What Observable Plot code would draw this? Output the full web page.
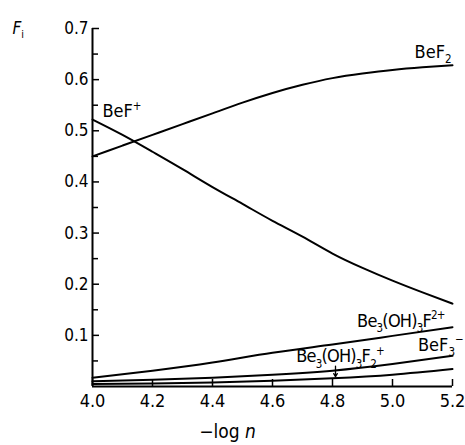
<!DOCTYPE html>
<html><head><meta charset="utf-8">
<script src="https://cdn.jsdelivr.net/npm/d3@7"></script>
<script src="https://cdn.jsdelivr.net/npm/@observablehq/plot@0.6"></script>
<style>
body{margin:0;background:#fff;}
#chart svg{font-family:"DejaVu Sans Condensed","DejaVu Sans",sans-serif;font-stretch:condensed;}
</style></head><body><div id="chart"></div>
<script>
// -log n values (x) for the two major species
const logN = [4.0, 4.1, 4.2, 4.3, 4.4, 4.5, 4.6, 4.7, 4.8, 4.9, 5.0, 5.1, 5.2];
const fBeF = [0.522, 0.492, 0.459, 0.425, 0.390, 0.357, 0.324, 0.293, 0.260, 0.232, 0.207, 0.184, 0.162];
const fBeF2 = [0.450, 0.471, 0.492, 0.513, 0.534, 0.555, 0.574, 0.590, 0.603, 0.612, 0.619, 0.624, 0.628];
// -log n values for the minor species
const logNMinor = [4.0, 4.2, 4.4, 4.6, 4.8, 5.0, 5.2];
const fBe3OH3F = [0.017, 0.031, 0.047, 0.066, 0.082, 0.099, 0.116];
const fBeF3 = [0.010, 0.013, 0.017, 0.023, 0.031, 0.044, 0.060];
const fBe3OH3F2 = [0.005, 0.006, 0.008, 0.011, 0.016, 0.023, 0.034];
// ticks
const yMajor = [0.1, 0.2, 0.3, 0.4, 0.5, 0.6, 0.7];
const yMinor = [0.05, 0.15, 0.25, 0.35, 0.45, 0.55, 0.65];
const xTicks = [4.0, 4.2, 4.4, 4.6, 4.8, 5.0, 5.2];
// species labels (markup: _ subscript, ^ superscript)
const labelText = ["BeF^+", "BeF_2", "Be_3(OH)_3F^{2+}", "BeF_3^−", "Be_3(OH)_3F_2^+"];
const labelX = [4.033, 5.197, 5.174, 5.085, 4.679];
const labelY = [0.526, 0.642, 0.117, 0.070, 0.047];
const labelAnchor = ["start", "end", "end", "start", "start"];
// arrow from label to the lowest curve
const arrowX = 4.81, arrowFrom = 0.040, arrowTo = 0.019;

const rows = [];
logN.forEach((x, i) => { rows.push({x, y: fBeF[i], s: "BeF+"}); rows.push({x, y: fBeF2[i], s: "BeF2"}); });
logNMinor.forEach((x, i) => {
  rows.push({x, y: fBe3OH3F[i], s: "Be3(OH)3F2+"});
  rows.push({x, y: fBeF3[i], s: "BeF3-"});
  rows.push({x, y: fBe3OH3F2[i], s: "Be3(OH)3F2+b"});
});
const labels = labelText.map((t, i) => ({t, x: labelX[i], y: labelY[i], a: labelAnchor[i]}));

const chart = Plot.plot({
  width: 465, height: 445,
  marginLeft: 92, marginRight: 13, marginTop: 28, marginBottom: 59,
  style: {background: "white", color: "black", overflow: "visible"},
  x: {domain: [4.0, 5.2]},
  y: {domain: [0, 0.7]},
  marks: [
    Plot.axisY({ticks: yMajor, tickSize: -7, tickFormat: () => "", strokeWidth: 1.5, label: null}),
    Plot.axisY({ticks: yMinor, tickSize: -6, tickFormat: () => "", strokeWidth: 1.5, label: null}),
    Plot.axisY({ticks: yMajor, tickSize: 0, tickPadding: 4, fontSize: 17, tickFormat: d => d.toFixed(1), label: null, style: {letterSpacing: "2px"}}),
    Plot.axisX({ticks: xTicks, tickSize: -7, tickFormat: () => "", strokeWidth: 1.5, label: null}),
    Plot.axisX({ticks: xTicks, tickSize: 0, tickPadding: 8, fontSize: 18, tickFormat: d => d.toFixed(1), label: null}),
    Plot.ruleX([4.0], {strokeWidth: 2}),
    Plot.ruleY([0], {strokeWidth: 2}),
    Plot.line(rows, {x: "x", y: "y", z: "s", curve: "natural", stroke: "black", strokeWidth: 2}),
    Plot.text(labels.filter(d => d.a === "start"), {x: "x", y: "y", text: "t", textAnchor: "start", lineAnchor: "bottom", fontSize: 18, fill: "black"}),
    Plot.text(labels.filter(d => d.a === "end"), {x: "x", y: "y", text: "t", textAnchor: "end", lineAnchor: "bottom", fontSize: 18, fill: "black"}),
    Plot.arrow([0], {x1: () => arrowX, x2: () => arrowX, y1: () => arrowFrom, y2: () => arrowTo, stroke: "black", strokeWidth: 1.3, headLength: 8}),
    Plot.text(["*F*_i"], {frameAnchor: "top-left", dx: -80, dy: 5, textAnchor: "start", lineAnchor: "bottom", fontSize: 17, text: d => d}),
    Plot.text(["−log *n*"], {frameAnchor: "bottom", dx: -45, dy: 51, fontSize: 19, text: d => d})
  ]
});

// turn markup into tspans for sub/superscripts and italics
function richify(el) {
  d3.select(el).selectAll("text").each(function () {
    const t = this.textContent;
    if (!/[_^*]/.test(t)) return;
    const fs = parseFloat(getComputedStyle(this).fontSize) || 16;
    const toks = t.match(/(_\{[^}]*\}|_.|\^\{[^}]*\}|\^.|\*[^*]*\*|[^_^*]+)/g);
    if (t.length > 10) this.setAttribute("letter-spacing", "-0.8");
    while (this.firstChild) this.removeChild(this.firstChild);
    let shift = 0;
    for (const tok of toks) {
      const ts = document.createElementNS("http://www.w3.org/2000/svg", "tspan");
      let target = 0, str = tok, small = false, italic = false;
      if (tok[0] === "_") { target = 0.28 * fs; small = true; str = tok.slice(1).replace(/[{}]/g, ""); }
      else if (tok[0] === "^") { target = -0.42 * fs; small = true; str = tok.slice(1).replace(/[{}]/g, ""); }
      else if (tok[0] === "*") { italic = true; str = tok.slice(1, -1); }
      const d = target - shift;
      if (d !== 0) ts.setAttribute("dy", d);
      shift = target;
      if (small) ts.setAttribute("font-size", (0.64 * fs).toFixed(1));
      if (italic) ts.setAttribute("font-style", "italic");
      ts.textContent = str;
      this.appendChild(ts);
    }
  });
}
document.getElementById("chart").appendChild(chart);
richify(chart);
</script></body></html>
